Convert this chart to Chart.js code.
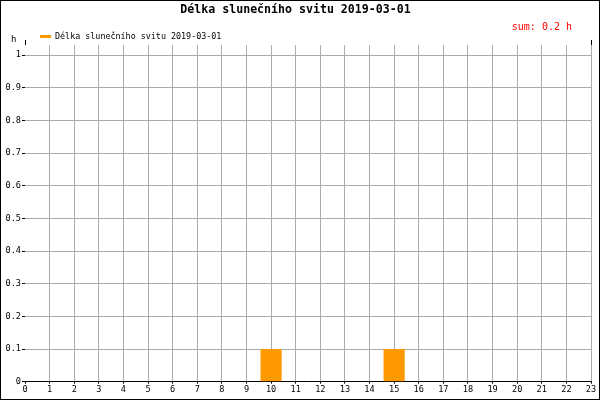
<!DOCTYPE html>
<html>
<head>
<meta charset="utf-8">
<script src="https://cdn.jsdelivr.net/npm/chart.js@4"></script>
<style>
  body { margin: 0; background: #fff; }
  canvas { display: block; }
</style>
</head>
<body>
<canvas id="myChart" width="600" height="400"></canvas>
<script>
// hodiny dne a delka slunecniho svitu (h)
var hours = ['0','1','2','3','4','5','6','7','8','9','10','11','12','13','14','15','16','17','18','19','20','21','22','23'];
var sunshine = [0,0,0,0,0,0,0,0,0,0,0.1,0,0,0,0,0.1,0,0,0,0,0,0,0,0];
var yTicks = [0,0.1,0.2,0.3,0.4,0.5,0.6,0.7,0.8,0.9,1];
var seriesName = 'Délka slunečního svitu 2019-03-01';
var sumText = 'sum: 0.2 h';

var mono = '"DejaVu Sans Mono", monospace';
var barColor = '#ff9900';

// legenda, jednotka, soucet a ramecek
var extras = {
    id: 'extras',
    afterDraw: function(chart) {
	var ctx = chart.ctx;
	var area = chart.chartArea;
	ctx.save();
	// legenda
	ctx.fillStyle = barColor;
	ctx.fillRect(40, 35, 11, 3);
	ctx.fillStyle = '#000';
	ctx.font = '8.4px ' + mono;
	ctx.textBaseline = 'middle';
	ctx.textAlign = 'left';
	ctx.fillText(seriesName, 55, 37);
	// jednotka osy y
	ctx.font = '9px ' + mono;
	ctx.fillText('h', 11, 40);
	// soucet
	ctx.fillStyle = '#ff0000';
	ctx.font = '10px ' + mono;
	ctx.textAlign = 'right';
	ctx.fillText(sumText, 572, 27);
	// znacky nad grafem
	ctx.strokeStyle = '#000';
	ctx.lineWidth = 1;
	ctx.beginPath();
	ctx.moveTo(Math.round(area.left) + 0.5, area.top - 5);
	ctx.lineTo(Math.round(area.left) + 0.5, area.top);
	ctx.moveTo(Math.round(area.right) + 0.5, area.top - 5);
	ctx.lineTo(Math.round(area.right) + 0.5, area.top);
	ctx.stroke();
	ctx.strokeRect(0.5, 0.5, 599, 399);
	ctx.restore();
    }
};

var ctx = document.getElementById('myChart').getContext('2d');
var myChart = new Chart(ctx, {
    type: 'bar',
    data: {
	labels: hours,
	datasets: [
	    { label: seriesName, data: sunshine, backgroundColor: barColor,
	      borderWidth: 0, barPercentage: 0.86, categoryPercentage: 1 }
	]
    },
    options: {
	responsive: false,
	animation: false,
	layout: { padding: { left: 0, right: 9, top: 0, bottom: 4 } },
	plugins: {
	    title: {
		display: true, text: seriesName, color: '#000',
		font: { family: mono, size: 11.6, weight: 'bold' },
		padding: { top: 3.5, bottom: 27.6 }
	    },
	    legend: { display: false },
	    tooltip: { enabled: false }
	},
	scales: {
	    x: {
		offset: false,
		grid: {
		    offset: false,
		    color: function(c) { return c.index === 0 ? 'rgba(0,0,0,0)' : '#aaaaaa'; },
		    tickColor: '#000', tickLength: 2
		},
		border: { color: '#000' },
		ticks: { color: '#000', font: { family: mono, size: 8.6 },
			 maxRotation: 0, autoSkip: false, padding: 1 }
	    },
	    y: {
		min: 0, max: 1.031,
		afterBuildTicks: function(scale) {
		    scale.ticks = yTicks.map(function(v) { return { value: v }; });
		},
		afterFit: function(scale) { scale.width = 25; },
		grid: { color: '#aaaaaa', tickColor: '#000', tickLength: 3 },
		border: { display: false },
		ticks: { color: '#000', padding: 1,
			 font: { family: mono, size: 8.6 },
			 callback: function(v) { return String(v); } }
	    }
	}
    },
    plugins: [extras]
});
</script>
</body>
</html>
